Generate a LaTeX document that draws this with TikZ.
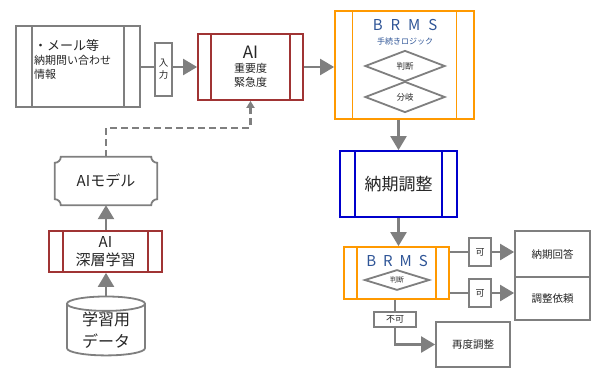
\documentclass[tikz,border=0pt]{standalone}
\usepackage{fontspec}
\setmainfont{Noto Sans CJK JP}
\usetikzlibrary{arrows.meta,shapes.geometric}
\definecolor{line gray}{RGB}{127,127,127}
\definecolor{ai red}{RGB}{160,52,52}
\definecolor{brms orange}{RGB}{255,153,0}
\definecolor{adjust blue}{RGB}{0,0,204}
\definecolor{brms blue}{RGB}{47,85,151}
\definecolor{ink}{RGB}{38,38,38}

\begin{document}
\begin{tikzpicture}[x=1pt, y=-1pt,
		every node/.style={text=ink, inner sep=0pt},
		box/.style={draw=line gray, line width=1.8pt, fill=white, rectangle},
		proc/.style 2 args={draw=#1, line width=1.8pt, fill=white, rectangle,
			path picture={\draw[#1, line width=1.8pt]
				([xshift=#2]path picture bounding box.north west) -- ([xshift=#2]path picture bounding box.south west)
				([xshift=-#2]path picture bounding box.north east) -- ([xshift=-#2]path picture bounding box.south east);}},
		dia/.style={diamond, draw=line gray, line width=1.8pt, minimum width=80pt, minimum height=31pt,
			font=\fontsize{8.5}{10}\selectfont},
		brmstitle/.style={text=brms blue, font=\fontsize{15}{17}\selectfont},
		link/.style={line gray, line width=2.4pt},
		arr/.style={link, -{Triangle[length=14pt, width=16pt]}},
		dashline/.style={line gray, line width=2.2pt, dash pattern=on 7pt off 4pt,
			-{Triangle[length=7pt, width=8pt]}}]
	\useasboundingbox (0,0) rectangle (593,369);

	% input side
	\node[proc={line gray}{16pt}, minimum width=124pt, minimum height=81pt] (mail) at (78,66.5) {};
	\node[anchor=north west, align=left, font=\fontsize{11}{14}\selectfont] (mailtxt) at (34,39)
		{{\fontsize{13}{15}\selectfont ・メール等}\\ 納期問い合わせ\\ 情報};
	\node[box, minimum width=17pt, minimum height=53pt, align=center,
		font=\fontsize{9.5}{12}\selectfont] (inbox) at (163.5,69.5) {入\\力};
	\node[proc={ai red}{13pt}, minimum width=105pt, minimum height=66pt, align=center,
		font=\fontsize{11}{14}\selectfont] (ai) at (250.5,67)
		{{\fontsize{17}{19}\selectfont AI}\\ 重要度\\ 緊急度};

	% rule engine
	\node[proc={brms orange}{17.5pt}, minimum width=139pt, minimum height=108pt] (brms) at (404.5,65) {};
	\node[brmstitle] (brmsname) at (405,25) {B\hspace{8pt}R\hspace{8pt}M\hspace{8pt}S};
	\node[text=brms blue, font=\fontsize{8}{9}\selectfont] (brmssub) at (405,41) {手続きロジック};
	\node[dia] (judge) at (405,66) {判断};
	\node[dia] (branch) at (405,97) {分岐};

	\node[proc={adjust blue}{15pt}, minimum width=117pt, minimum height=66pt,
		font=\fontsize{17}{20}\selectfont] (adjust) at (398.5,184) {納期調整};

	\node[proc={brms orange}{13pt}, minimum width=105pt, minimum height=52pt] (check) at (396.5,273) {};
	\node[brmstitle] (checkname) at (397,261) {B\hspace{7pt}R\hspace{7pt}M\hspace{7pt}S};
	\node[dia, minimum width=65pt, minimum height=16pt, font=\fontsize{7}{8}\selectfont] (checkjudge) at (397,280) {判断};

	% results
	\node[box, minimum width=22pt, minimum height=28pt, font=\fontsize{9}{10}\selectfont] (ok1) at (480,252) {可};
	\node[box, minimum width=22pt, minimum height=28pt, font=\fontsize{9}{10}\selectfont] (ok2) at (480,293) {可};
	\node[box, minimum width=75pt, minimum height=46pt, font=\fontsize{10.5}{12}\selectfont] (reply) at (552.5,254) {納期回答};
	\node[box, minimum width=75pt, minimum height=43pt, font=\fontsize{10.5}{12}\selectfont] (request) at (552.5,298.5) {調整依頼};
	\node[box, minimum width=42pt, minimum height=15pt, font=\fontsize{9}{10}\selectfont] (ng) at (395,319.5) {不可};
	\node[box, minimum width=74pt, minimum height=45pt, font=\fontsize{10.5}{12}\selectfont] (redo) at (473,344.5) {再度調整};

	% learning side
	\node[minimum width=102pt, minimum height=48pt, font=\fontsize{15}{17}\selectfont] (model) at (106,181) {AIモデル};
	\draw[line gray, line width=1.8pt]
		([xshift=6pt]model.north west) -- ([xshift=-6pt]model.north east)
		arc[start angle=180, end angle=270, radius=6pt] -- ([yshift=6pt]model.south east)
		arc[start angle=90, end angle=180, radius=6pt] -- ([xshift=6pt]model.south west)
		arc[start angle=0, end angle=90, radius=6pt] -- ([yshift=-6pt]model.north west)
		arc[start angle=270, end angle=360, radius=6pt] -- cycle;
	\node[proc={ai red}{14pt}, minimum width=113pt, minimum height=41pt, align=center,
		font=\fontsize{15}{18}\selectfont] (deep) at (105.5,251.5) {AI\\ 深層学習};
	\node[cylinder, shape border rotate=90, draw=line gray, line width=1.8pt, fill=white,
		minimum width=78pt, minimum height=56pt, aspect=0.3, align=center,
		font=\fontsize{16}{22}\selectfont] (data) at (106,330) {学習用\\ データ};

	% connectors
	\draw[link] (mail.east |- ai.west) -- (inbox.west |- ai.west);
	\draw[arr] (inbox.east |- ai.west) -- (ai.west);
	\draw[arr] (ai.east) -- (ai.east -| brms.west);
	\draw[arr] (brms.south -| adjust.north) -- (adjust.north);
	\draw[arr] (adjust.south) -- (adjust.south |- check.north);
	\draw[link] (check.east |- ok1) -- (ok1.west);
	\draw[arr] (ok1.east) -- (ok1.east -| reply.west);
	\draw[link] (check.east |- ok2) -- (ok2.west);
	\draw[arr] (ok2.east) -- (ok2.east -| request.west);
	\draw[link] (check.south -| ng) -- (ng.north);
	\draw[arr] (ng.south) |- (redo.west);
	\draw[arr] (data.north) -- (data.north |- deep.south);
	\draw[arr] (deep.north -| model.south) -- (model.south);
	\draw[dashline] (model.north) -- ++(0,-29) -| (ai.south);
\end{tikzpicture}
\end{document}
